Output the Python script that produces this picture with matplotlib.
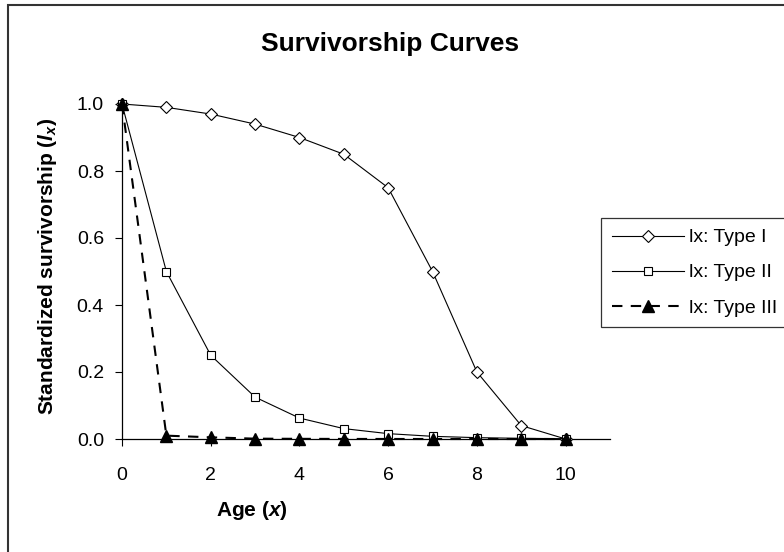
import numpy as np
import matplotlib
matplotlib.use('Agg')
import matplotlib.pyplot as plt
from matplotlib.patches import Rectangle

plt.rcParams['font.family'] = ['Liberation Sans', 'DejaVu Sans']
plt.rcParams['mathtext.fontset'] = 'custom'
plt.rcParams['mathtext.it'] = 'Liberation Sans:italic:bold'
plt.rcParams['mathtext.rm'] = 'Liberation Sans:bold'

# survivorship data
age = [0, 1, 2, 3, 4, 5, 6, 7, 8, 9, 10]
type1 = [1.0, 0.99, 0.97, 0.94, 0.90, 0.85, 0.75, 0.50, 0.20, 0.04, 0.0]
type2 = [1.0, 0.5, 0.25, 0.125, 0.0625, 0.031, 0.016, 0.008, 0.004, 0.002, 0.001]
type3 = [1.0, 0.01, 0.005, 0.001, 0.0005, 0.0002, 0.0001, 0.0, 0.0, 0.0, 0.0]
labels = ['lx: Type I', 'lx: Type II', 'lx: Type III']
xticks = [0, 2, 4, 6, 8, 10]
yticks = [0.0, 0.2, 0.4, 0.6, 0.8, 1.0]

W, H = 784, 552
fig = plt.figure(figsize=(W / 100, H / 100), dpi=100)
ax = fig.add_axes([122 / W, 1 - 439 / H, (610 - 122) / W, (439 - 104) / H])

ax.plot(age, type1, color='black', lw=0.8, marker='D', ms=6.5, mfc='white',
        mec='black', mew=0.8, clip_on=False, label=labels[0], zorder=3)
ax.plot(age, type2, color='black', lw=0.8, marker='s', ms=6, mfc='white',
        mec='black', mew=0.8, clip_on=False, label=labels[1], zorder=3)
ax.plot(age, type3, color='black', lw=1.5, ls=(0, (5, 4)), marker='^', ms=8,
        mfc='black', mec='black', clip_on=False, label=labels[2], zorder=4)

ax.set_xlim(0, 11)
ax.set_ylim(0, 1)
ax.set_xticks(xticks)
ax.set_yticks(yticks)
ax.set_yticklabels(['%.1f' % v for v in yticks])
ax.tick_params(direction='out', length=5, width=0.8, labelsize=14, color='black')
ax.tick_params(axis='y', pad=8)
ax.tick_params(axis='x', pad=15)
for s in ['top', 'right']:
    ax.spines[s].set_visible(False)
for s in ['left', 'bottom']:
    ax.spines[s].set_linewidth(0.9)
    ax.spines[s].set_color('black')

fig.text(48 / W, 1 - 266 / H, r'Standardized survivorship ($l_x$)', rotation=90,
         ha='center', va='center', fontsize=15, fontweight='bold')
fig.text(252 / W, 1 - 511 / H, r'Age ($x$)', ha='center', va='center',
         fontsize=15, fontweight='bold')
fig.text(390 / W, 1 - 51 / H, 'Survivorship Curves', ha='center', va='baseline',
         fontsize=19, fontweight='bold')

leg = ax.legend(loc='upper left', bbox_to_anchor=(601 / W, 1 - 218 / H),
                bbox_transform=fig.transFigure, fontsize=14, frameon=True,
                fancybox=False, edgecolor='black', borderaxespad=0,
                handlelength=3.7, handletextpad=0.3, labelspacing=0.9,
                borderpad=0.55)
leg.get_frame().set_linewidth(0.9)

fig.patches.append(Rectangle((8 / W, -0.1), 1.2, 1 - 5 / H + 0.1,
                             transform=fig.transFigure, fill=False,
                             edgecolor='#333333', lw=1.5))

fig.savefig('out.png', dpi=100)
